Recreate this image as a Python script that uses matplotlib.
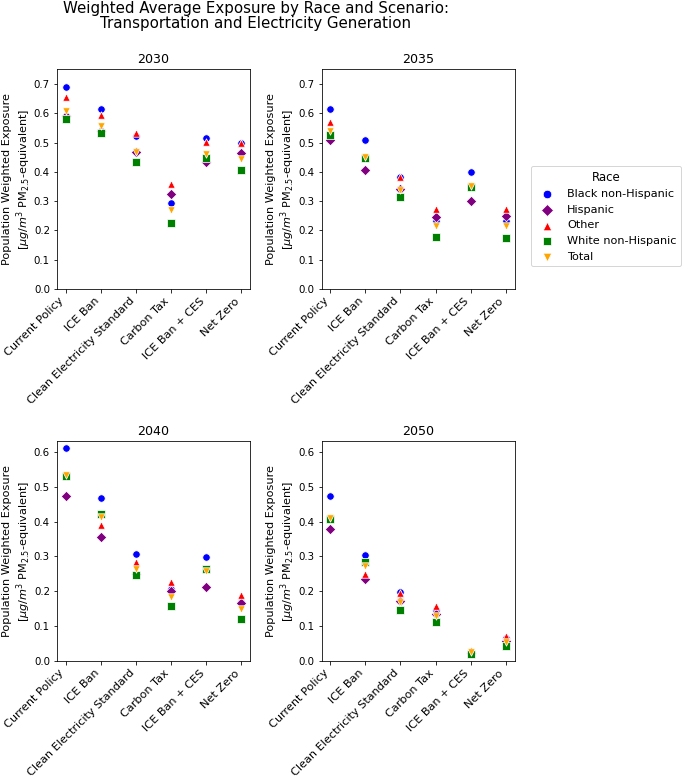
import matplotlib
matplotlib.use("Agg")
import matplotlib.pyplot as plt
import numpy as np

#*************** data ***************
scenarios = ["Current Policy", "ICE Ban", "Clean Electricity Standard",
             "Carbon Tax", "ICE Ban + CES", "Net Zero"]
races = ["Black non-Hispanic", "Hispanic", "Other", "White non-Hispanic", "Total"]
years = ["2030", "2035", "2040", "2050"]

black_2030 = [0.691, 0.615, 0.523, 0.295, 0.514, 0.498]
hisp_2030 = [0.592, 0.538, 0.469, 0.323, 0.435, 0.465]
other_2030 = [0.657, 0.594, 0.532, 0.357, 0.503, 0.500]
white_2030 = [0.581, 0.533, 0.433, 0.224, 0.447, 0.407]
total_2030 = [0.607, 0.555, 0.467, 0.270, 0.461, 0.443]

black_2035 = [0.615, 0.510, 0.382, 0.232, 0.398, 0.231]
hisp_2035 = [0.509, 0.405, 0.341, 0.245, 0.302, 0.248]
other_2035 = [0.569, 0.450, 0.384, 0.274, 0.356, 0.274]
white_2035 = [0.524, 0.447, 0.314, 0.176, 0.348, 0.174]
total_2035 = [0.540, 0.450, 0.339, 0.214, 0.350, 0.214]

black_2040 = [0.611, 0.468, 0.306, 0.207, 0.297, 0.170]
hisp_2040 = [0.472, 0.356, 0.250, 0.201, 0.213, 0.167]
other_2040 = [0.530, 0.391, 0.284, 0.227, 0.265, 0.189]
white_2040 = [0.530, 0.423, 0.246, 0.157, 0.263, 0.121]
total_2040 = [0.533, 0.413, 0.263, 0.184, 0.258, 0.148]

black_2050 = [0.472, 0.303, 0.198, 0.145, 0.025, 0.065]
hisp_2050 = [0.379, 0.235, 0.172, 0.136, 0.024, 0.057]
other_2050 = [0.410, 0.249, 0.196, 0.159, 0.031, 0.072]
white_2050 = [0.406, 0.284, 0.147, 0.112, 0.019, 0.042]
total_2050 = [0.411, 0.272, 0.169, 0.129, 0.026, 0.055]

data = {
    "2030": [black_2030, hisp_2030, other_2030, white_2030, total_2030],
    "2035": [black_2035, hisp_2035, other_2035, white_2035, total_2035],
    "2040": [black_2040, hisp_2040, other_2040, white_2040, total_2040],
    "2050": [black_2050, hisp_2050, other_2050, white_2050, total_2050],
}

colors = ["blue", "purple", "red", "green", "orange"]
markers = ["o", "D", "^", "s", "v"]

#*************** figure ***************
fig = plt.figure(figsize=(691 / 72, 782 / 72), dpi=72)

W, H = 691, 782
boxes = {  # left, top, right, bottom in pixels
    "2030": (57, 69, 250, 289),
    "2035": (321.5, 69, 514.5, 289),
    "2040": (57, 441, 250, 661),
    "2050": (321.5, 441, 514.5, 661),
}
ymax = {"2030": 0.751, "2035": 0.751, "2040": 0.631, "2050": 0.631}

x = np.arange(len(scenarios))
handles = []
for yr in years:
    l, t, r, b = boxes[yr]
    ax = fig.add_axes([l / W, 1 - b / H, (r - l) / W, (b - t) / H])
    for i, race in enumerate(races):
        h = ax.scatter(x, data[yr][i], s=55, c=colors[i], marker=markers[i],
                       edgecolors="white", linewidths=0.75, label=race)
        if yr == "2030":
            handles.append(h)
    ax.set_xlim(-0.25, 5.25)
    ax.set_ylim(0, ymax[yr])
    ax.set_yticks(np.arange(0, ymax[yr], 0.1))
    ax.set_xticks(x)
    ax.set_xticklabels(scenarios, rotation=45, ha="right")
    ax.tick_params(axis="x", labelsize=11.2)
    ax.tick_params(axis="y", labelsize=10.2)
    ax.set_title(yr, fontsize=12.6)
    ax.set_ylabel("Population Weighted Exposure\n[$\\mu g/m^3$ PM$_{2.5}$-equivalent]",
                  fontsize=11.2, labelpad=1)

fig.legend(handles=handles, title="Race", loc="upper left", borderaxespad=0,
           bbox_to_anchor=(531 / W, 1 - 166 / H), fontsize=11.3, title_fontsize=11.8,
           markerscale=1.15)

fig.text(256 / W, 1 - 0.5 / H,
         "Weighted Average Exposure by Race and Scenario:\nTransportation and Electricity Generation",
         ha="center", va="top", fontsize=15, linespacing=1.05)

fig.savefig("out.png", dpi=72)
